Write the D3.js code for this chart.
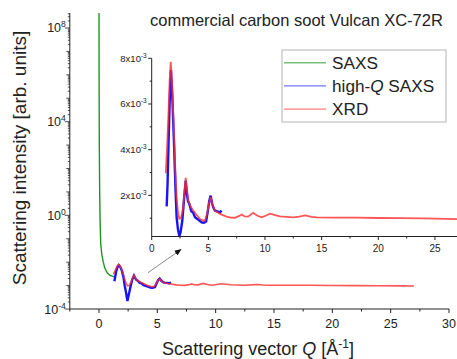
<!DOCTYPE html>
<html>
<head>
<meta charset="utf-8">
<script src="https://cdn.jsdelivr.net/npm/d3@7"></script>
<style>
  body { margin: 0; background: #fff; }
  svg { display: block; font-family: "Liberation Sans", Arial, sans-serif; }
</style>
</head>
<body>
<svg id="chart" width="457" height="359"></svg>
<script>
// Q in 1/Å, intensity in arb. units
const saxsQ = [0.003, 0.01, 0.03, 0.06, 0.1, 0.15, 0.23, 0.35, 0.5, 0.7, 0.95, 1.3];
const saxsI = [1e9, 1e6, 1e3, 10, 0.5, 0.063, 0.024, 0.011, 5.6e-3, 3.5e-3, 2.7e-3, 2.35e-3];

// high-Q SAXS and XRD, intensity in units of 1e-3
const hqQ = [1.32, 1.4, 1.47, 1.58, 1.7, 1.82, 1.97, 2.1, 2.2, 2.32, 2.44, 2.55, 2.7, 2.85, 3.0, 3.1,
  3.2, 3.32, 3.5, 3.65, 3.82, 4.0, 4.2, 4.41, 4.6, 4.8, 4.95, 5.08, 5.2, 5.35, 5.5, 5.59, 5.8, 6.03, 6.17];
const hqI = [1.52, 2.5, 3.97, 6.0, 7.49, 6.3, 4.26, 2.3, 1.04, 0.5, 0.22, 0.4, 0.89, 1.8, 2.65, 2.1,
  1.75, 1.63, 1.3, 1.25, 1.04, 0.98, 0.9, 0.82, 0.8, 0.86, 1.3, 1.75, 1.99, 1.6, 1.4, 1.33, 1.3, 1.26, 1.33];

const xrdQ = [1.24, 1.35, 1.47, 1.58, 1.68, 1.8, 1.97, 2.1, 2.2, 2.32, 2.44, 2.6, 2.75, 2.9, 3.0, 3.1,
  3.23, 3.45, 3.67, 3.95, 4.26, 4.5, 4.7, 4.9, 5.05, 5.2, 5.35, 5.59, 6.03, 6.6, 7.0, 7.35, 7.73, 7.95,
  8.2, 8.5, 8.95, 9.3, 9.7, 10.1, 10.45, 10.9, 11.3, 12.5, 13.0, 13.55, 14.1, 14.6, 16, 18.1, 20, 22,
  24, 26, 27];
const xrdI = [2.97, 4.0, 5.43, 7.0, 7.85, 6.9, 4.7, 2.9, 1.92, 1.25, 0.97, 1.02, 1.4, 2.2, 2.77, 2.3,
  1.77, 1.5, 1.33, 1.15, 0.97, 0.9, 0.89, 1.2, 1.65, 1.92, 1.6, 1.33, 1.19, 1.07, 1.03, 1.02, 1.1, 1.16,
  1.08, 1.07, 1.24, 1.12, 1.04, 1.12, 1.2, 1.14, 1.08, 1.04, 1.07, 1.12, 1.06, 1.04, 1.03, 1.03, 1.01, 1.0,
  0.99, 0.97, 0.96];

const seriesNames = ["SAXS", "high-Q SAXS", "XRD"];
const seriesColors = ["#1e961e", "#1414ff", "#ff2a2a"];

const mainXTicks = [0, 5, 10, 15, 20, 25, 30];
const mainYExp = [-4, 0, 4, 8];
const insetXTicks = [0, 5, 10, 15, 20, 25];
const insetYTicks = [2, 4, 6, 8]; // x10^-3

const svg = d3.select("#chart");
const ink = "#222";

const zip = (qs, is, k = 1) => qs.map((q, i) => [q, is[i] * k]);
const saxs = zip(saxsQ, saxsI);
const hq = zip(hqQ, hqI, 1e-3);
const xrd = zip(xrdQ, xrdI, 1e-3);

// ---------- main plot ----------
const x = d3.scaleLinear().domain([-2.5, 30]).range([69.8, 449]);
const y = d3.scaleLog().domain([1e-4, Math.pow(10, 8.64)]).range([309, 13]);

svg.append("clipPath").attr("id", "mainclip")
  .append("rect").attr("x", 69.8).attr("y", 13).attr("width", 380).attr("height", 296);

const line = d3.line().x(d => x(d[0])).y(d => y(d[1]));
const curves = svg.append("g").attr("clip-path", "url(#mainclip)").attr("fill", "none");
curves.append("path").attr("d", line(saxs)).attr("stroke", seriesColors[0]).attr("stroke-width", 1.4);
curves.append("path").attr("d", line(hq)).attr("stroke", seriesColors[1]).attr("stroke-width", 2.4);
curves.append("path").attr("d", line(xrd)).attr("stroke", seriesColors[2]).attr("stroke-width", 1.6)
  .attr("stroke-opacity", 0.8);

// x axis
const gx = svg.append("g").attr("transform", "translate(0,309)");
gx.append("line").attr("x1", x(-2.5)).attr("x2", x(30)).attr("stroke", ink);
gx.selectAll(".maj").data(mainXTicks).enter().append("line")
  .attr("x1", d => x(d)).attr("x2", d => x(d)).attr("y2", 4).attr("stroke", ink);
gx.selectAll(".min").data(mainXTicks.map(d => d - 2.5)).enter().append("line")
  .attr("x1", d => x(d)).attr("x2", d => x(d)).attr("y2", 2.5).attr("stroke", ink);
gx.selectAll("text").data(mainXTicks).enter().append("text")
  .attr("x", d => x(d)).attr("y", 19).attr("text-anchor", "middle")
  .attr("font-size", 12.5).attr("fill", ink).text(d => d);

// y axis (log)
const gy = svg.append("g").attr("transform", "translate(69.8,0)");
gy.append("line").attr("y1", y.range()[0]).attr("y2", y.range()[1]).attr("stroke", ink);
const yMinor = [];
for (let e = -4; e <= 8; e++) {
  for (let m = 1; m <= 9; m++) {
    const v = m * Math.pow(10, e);
    if (v <= y.domain()[1]) yMinor.push({ v, len: m === 1 ? (e % 4 === 0 ? 5 : 3.5) : 2 });
  }
}
gy.selectAll(".t").data(yMinor).enter().append("line")
  .attr("y1", d => y(d.v)).attr("y2", d => y(d.v)).attr("x2", d => -d.len).attr("stroke", ink)
  .attr("stroke-width", 0.8);
const yl = gy.selectAll(".lab").data(mainYExp).enter().append("text")
  .attr("x", -4).attr("y", d => y(Math.pow(10, d)) + 4.5).attr("text-anchor", "end")
  .attr("font-size", 12.5).attr("fill", ink);
yl.append("tspan").text("10");
yl.append("tspan").attr("dy", -5).attr("font-size", 8.5).text(d => d);

// axis titles
const xt = svg.append("text").attr("x", 258).attr("y", 355).attr("text-anchor", "middle")
  .attr("font-size", 18).attr("fill", ink);
xt.append("tspan").text("Scattering vector ");
xt.append("tspan").attr("font-style", "italic").text("Q");
xt.append("tspan").text(" [Å");
xt.append("tspan").attr("dy", -7).attr("font-size", 12).text("-1");
xt.append("tspan").attr("dy", 7).text("]");

svg.append("text").attr("transform", "translate(26,158) rotate(-90)").attr("text-anchor", "middle")
  .attr("font-size", 19).attr("fill", ink).text("Scattering intensity [arb. units]");

svg.append("text").attr("x", 150).attr("y", 26).attr("font-size", 16.5).attr("fill", ink)
  .text("commercial carbon soot Vulcan XC-72R");

// arrow pointing to inset
svg.append("defs").append("marker").attr("id", "arrow").attr("viewBox", "0 0 10 10")
  .attr("refX", 9).attr("refY", 5).attr("markerWidth", 7).attr("markerHeight", 7)
  .attr("markerUnits", "userSpaceOnUse").attr("orient", "auto")
  .append("path").attr("d", "M0,1 L10,5 L0,9 Z").attr("fill", "#111");
svg.append("line").attr("x1", 148).attr("y1", 272.7).attr("x2", 181).attr("y2", 249.5)
  .attr("stroke", "#8a8a8a").attr("stroke-width", 1).attr("marker-end", "url(#arrow)");

// ---------- inset ----------
const ix = d3.scaleLinear().domain([0, 27]).range([151.7, 457.6]);
const iy = d3.scaleLinear().domain([0.2e-3, 8e-3]).range([236.5, 58.3]);
const iline = d3.line().x(d => ix(d[0])).y(d => iy(d[1]));

const inset = svg.append("g").attr("fill", "none");
inset.append("path").attr("d", iline(hq)).attr("stroke", seriesColors[1]).attr("stroke-width", 2.4);
inset.append("path").attr("d", iline(xrd)).attr("stroke", seriesColors[2]).attr("stroke-width", 1.8)
  .attr("stroke-opacity", 0.8);

const igx = svg.append("g").attr("transform", "translate(0,236.5)");
igx.append("line").attr("x1", ix(0)).attr("x2", ix(27)).attr("stroke", ink);
igx.selectAll(".maj").data(insetXTicks).enter().append("line")
  .attr("x1", d => ix(d)).attr("x2", d => ix(d)).attr("y2", 3.5).attr("stroke", ink);
igx.selectAll(".min").data(insetXTicks.map(d => d + 2.5)).enter().append("line")
  .attr("x1", d => ix(d)).attr("x2", d => ix(d)).attr("y2", 2).attr("stroke", ink);
igx.selectAll("text").data(insetXTicks).enter().append("text")
  .attr("x", d => ix(d)).attr("y", 15).attr("text-anchor", "middle")
  .attr("font-size", 10).attr("fill", ink).text(d => d);

const igy = svg.append("g").attr("transform", "translate(151.7,0)");
igy.append("line").attr("y1", iy.range()[0]).attr("y2", iy.range()[1]).attr("stroke", ink);
igy.selectAll(".maj").data(insetYTicks).enter().append("line")
  .attr("y1", d => iy(d * 1e-3)).attr("y2", d => iy(d * 1e-3)).attr("x2", -3.5).attr("stroke", ink);
igy.selectAll(".min").data(insetYTicks.map(d => d - 1)).enter().append("line")
  .attr("y1", d => iy(d * 1e-3)).attr("y2", d => iy(d * 1e-3)).attr("x2", -2).attr("stroke", ink);
const iyl = igy.selectAll(".lab").data(insetYTicks).enter().append("text")
  .attr("x", -5).attr("y", d => iy(d * 1e-3) + 3.5).attr("text-anchor", "end")
  .attr("font-size", 9.5).attr("fill", ink);
iyl.append("tspan").text(d => d + "x10");
iyl.append("tspan").attr("dy", -4).attr("font-size", 6.5).text("-3");

// ---------- legend ----------
const leg = svg.append("g");
leg.append("rect").attr("x", 282).attr("y", 50).attr("width", 164).attr("height", 72)
  .attr("fill", "#fff").attr("stroke", "#b4b4b4").attr("stroke-width", 1);
const rows = leg.selectAll(".row").data(seriesNames).enter().append("g")
  .attr("transform", (d, i) => `translate(0,${62.7 + i * 23.2})`);
rows.append("line").attr("x1", 284).attr("x2", 326)
  .attr("stroke", (d, i) => seriesColors[i]).attr("stroke-width", 1.4).attr("stroke-opacity", 0.6);
const lt = rows.append("text").attr("x", 332).attr("y", 6).attr("font-size", 17.2).attr("fill", ink);
lt.each(function (d) {
  const t = d3.select(this);
  if (d === "high-Q SAXS") {
    t.append("tspan").text("high-");
    t.append("tspan").attr("font-style", "italic").text("Q");
    t.append("tspan").text(" SAXS");
  } else {
    t.text(d);
  }
});
</script>
</body>
</html>
